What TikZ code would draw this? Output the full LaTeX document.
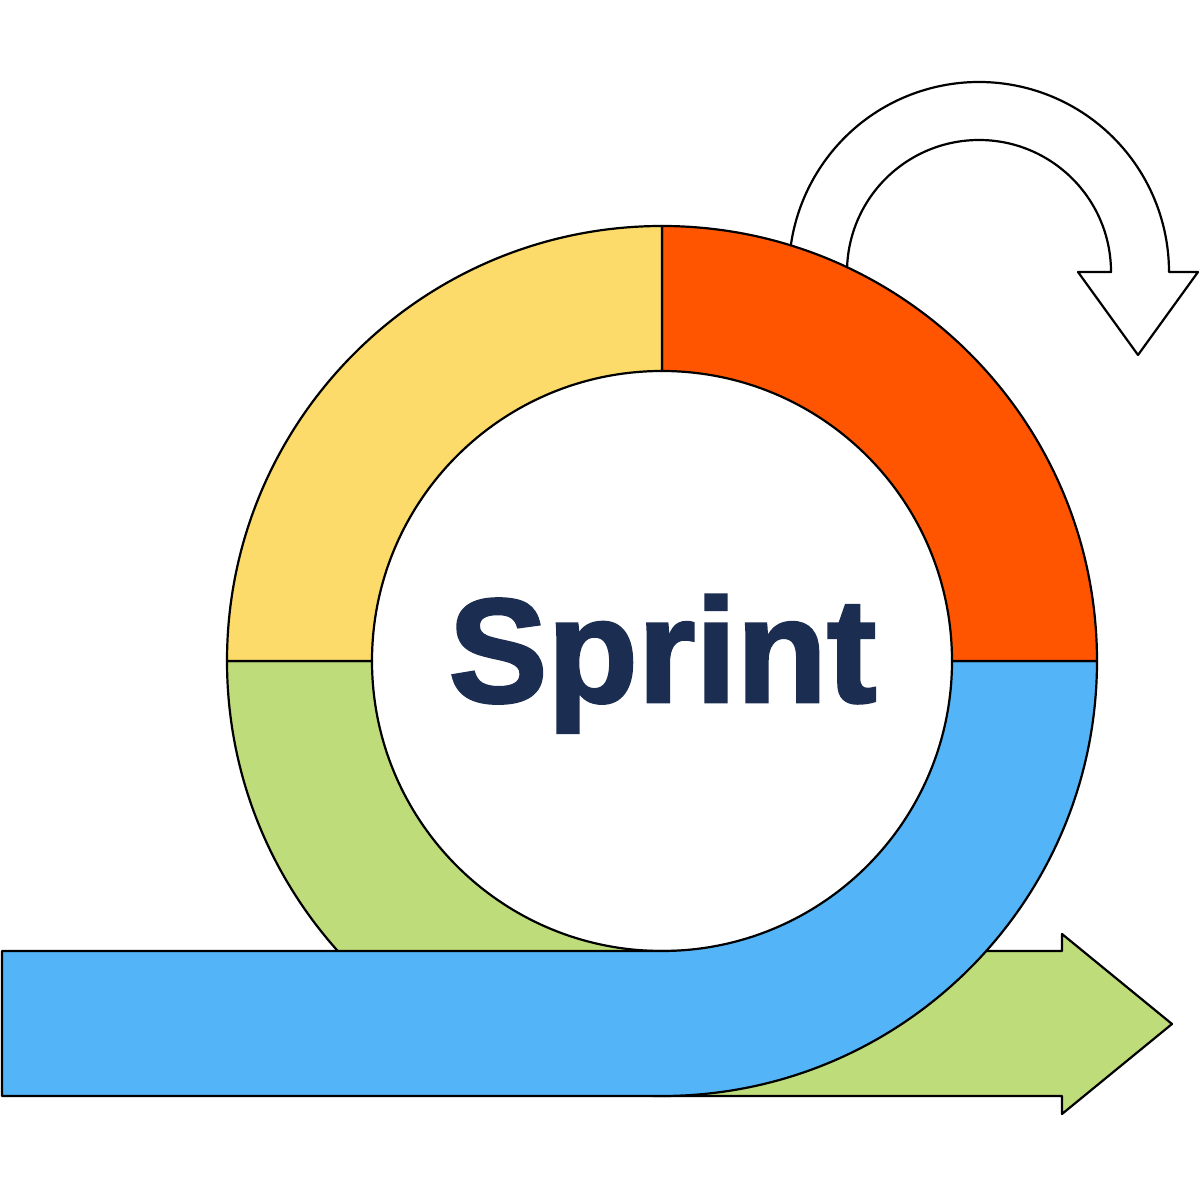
\documentclass[tikz,border=0pt]{standalone}
\usepackage{fontspec}
\newfontfamily\sprintfont{Liberation Sans Bold}[FakeBold=2]
\definecolor{cyellow}{RGB}{252,219,106}
\definecolor{corange}{RGB}{255,85,0}
\definecolor{cgreen}{RGB}{190,221,122}
\definecolor{cblue}{RGB}{83,181,247}
\definecolor{cnavy}{RGB}{27,45,80}
\begin{document}
\begin{tikzpicture}[x=1pt,y=1pt,
  part/.style={draw=black,line width=2.2pt,line join=round}]
\useasboundingbox (0,0) rectangle (1200,1200);
% curved arrow (behind ring)
\path[part,fill=white] (979,928) ++(195:190) coordinate (ca)
  arc[start angle=195,end angle=0,radius=190] -- (1198,928) -- (1138,845) -- (1078,928) -- (1111,928)
  arc[start angle=0,end angle=195,radius=132] -- cycle;
% green arc + arrow
\path[part,fill=cgreen] (227,539) coordinate (g0)
  arc[start angle=180,end angle=270,radius=435] -- (1062,104) -- (1062,86) -- (1172,176) -- (1062,266) -- (1062,249) -- (662,249)
  arc[start angle=270,end angle=180,radius=290] -- cycle;
% blue arc + bar
\path[part,fill=cblue] (2,249) coordinate (b0) -- (662,249)
  arc[start angle=270,end angle=360,radius=290] -- (1097,539)
  arc[start angle=0,end angle=-90,radius=435] -- (2,104) -- cycle;
% orange quadrant
\path[part,fill=corange] (662,829) coordinate (o0) -- (662,974)
  arc[start angle=90,end angle=0,radius=435] -- (952,539)
  arc[start angle=0,end angle=90,radius=290] -- cycle;
% yellow quadrant
\path[part,fill=cyellow] (662,974) coordinate (y0)
  arc[start angle=90,end angle=180,radius=435] -- (372,539)
  arc[start angle=180,end angle=90,radius=290] -- cycle;
\node[anchor=base,inner sep=0pt,text=cnavy,font=\sprintfont\fontsize{148}{160}\selectfont] (sprint) at (662.5,498) {Sprint};
\end{tikzpicture}
\end{document}
